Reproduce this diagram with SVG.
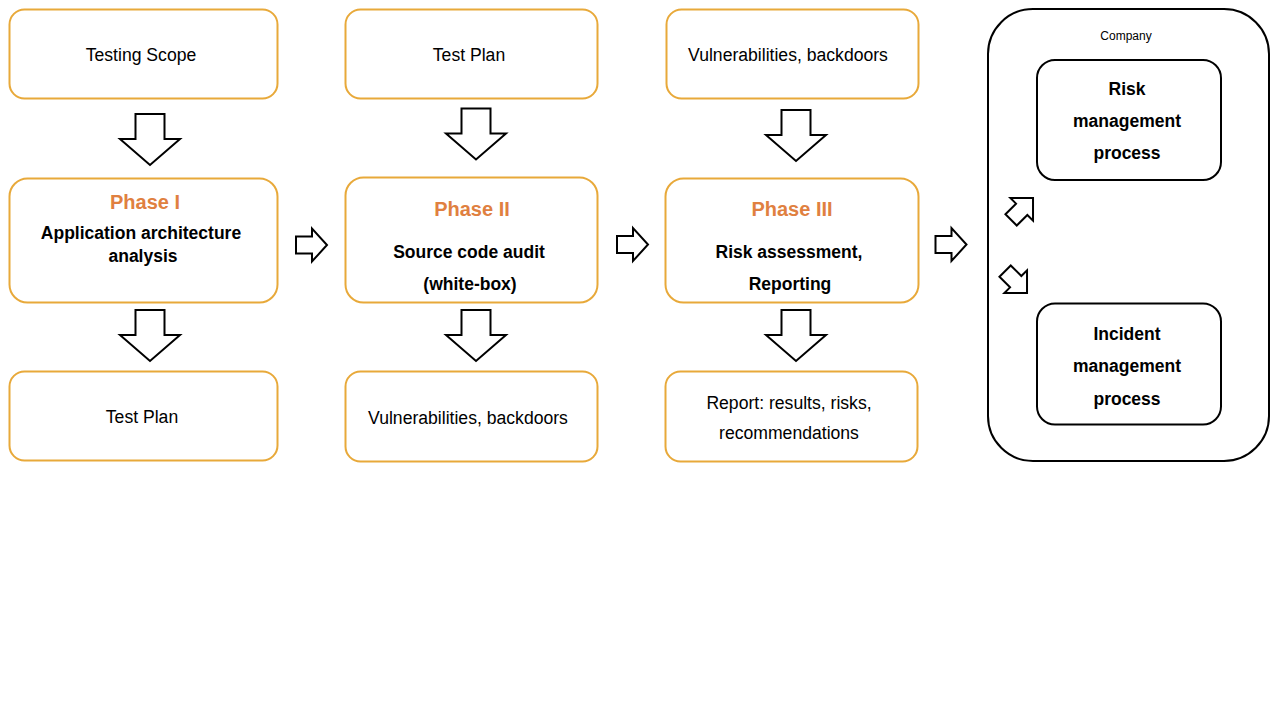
<svg xmlns="http://www.w3.org/2000/svg" xmlns:xlink="http://www.w3.org/1999/xlink" width="1280" height="720" viewBox="0 0 1280 720">
<style>
.ob{fill:#fff;stroke:#E8A93A;stroke-width:2}
.bb{fill:#fff;stroke:#000;stroke-width:2}
.ar{fill:#fff;stroke:#000;stroke-width:2;stroke-linejoin:miter}
text{font-family:"Liberation Sans",Arial,sans-serif;text-anchor:middle;fill:#000}
.r{font-size:17.6px}
.b{font-size:17.5px;font-weight:bold}
.ph{font-size:20px;font-weight:bold;fill:#E08040}
.s{font-size:12px}
</style>
<defs>
<path id="down" d="M-14.5,0 L14.5,0 L14.5,25 L30,25 L0,51 L-30,25 L-14.5,25 Z"/>
<path id="right" d="M0,-8.5 L16,-8.5 L16,-16.5 L31,0 L16,16.5 L16,8.5 L0,8.5 Z"/>
<path id="diag" d="M-14,-8 L1,-8 L1,-16 L17,0 L1,16 L1,8 L-14,8 Z"/>
</defs>
<rect width="1280" height="720" fill="#fff"/>

<g id="testing-scope"><rect class="ob" x="9.5" y="9.5" width="268" height="89" rx="15"/><text class="r" x="141" y="61">Testing Scope</text></g>
<g id="phase1"><rect class="ob" x="9.5" y="178.5" width="268" height="124" rx="18"/><text class="ph" x="145" y="209">Phase I</text><text class="b" x="141" y="239">Application architecture</text><text class="b" x="143" y="262">analysis</text></g>
<g id="test-plan-out"><rect class="ob" x="9.5" y="371.5" width="268" height="89" rx="15"/><text class="r" x="142" y="423">Test Plan</text></g>

<g id="test-plan-in"><rect class="ob" x="345.5" y="9.5" width="252" height="89" rx="15"/><text class="r" x="469" y="61">Test Plan</text></g>
<g id="phase2"><rect class="ob" x="345.5" y="177.5" width="252" height="125" rx="18"/><text class="ph" x="472" y="216">Phase II</text><text class="b" x="469" y="258">Source code audit</text><text class="b" x="470" y="290">(white-box)</text></g>
<g id="vuln-out"><rect class="ob" x="345.5" y="371.5" width="252" height="90" rx="15"/><text class="r" x="468" y="424">Vulnerabilities, backdoors</text></g>

<g id="vuln-in"><rect class="ob" x="666.5" y="9.5" width="252" height="89" rx="15"/><text class="r" x="788" y="61">Vulnerabilities, backdoors</text></g>
<g id="phase3"><rect class="ob" x="665.5" y="178.5" width="253" height="124" rx="18"/><text class="ph" x="792" y="216">Phase III</text><text class="b" x="789" y="258">Risk assessment,</text><text class="b" x="790" y="290">Reporting</text></g>
<g id="report"><rect class="ob" x="665.5" y="371.5" width="252" height="90" rx="15"/><text class="r" x="789" y="409">Report: results, risks,</text><text class="r" x="789" y="439">recommendations</text></g>

<g id="company"><rect class="bb" x="988" y="9" width="281" height="452" rx="45"/><text class="s" x="1126" y="40">Company</text></g>
<g id="risk-mgmt"><rect class="bb" x="1037" y="60" width="184" height="120" rx="18"/><text class="b" x="1127" y="95">Risk</text><text class="b" x="1127" y="127">management</text><text class="b" x="1127" y="159">process</text></g>
<g id="incident-mgmt"><rect class="bb" x="1037" y="303.5" width="184" height="121" rx="18"/><text class="b" x="1127" y="340">Incident</text><text class="b" x="1127" y="372">management</text><text class="b" x="1127" y="405">process</text></g>

<g id="connectors">
<use xlink:href="#down" class="ar" transform="translate(150,114)"/>
<use xlink:href="#down" class="ar" transform="translate(150,310)"/>
<use xlink:href="#down" class="ar" transform="translate(476,108.5)"/>
<use xlink:href="#down" class="ar" transform="translate(476,310)"/>
<use xlink:href="#down" class="ar" transform="translate(796,110)"/>
<use xlink:href="#down" class="ar" transform="translate(796,310)"/>
<use xlink:href="#right" class="ar" transform="translate(296,245)"/>
<use xlink:href="#right" class="ar" transform="translate(617,244.5)"/>
<use xlink:href="#right" class="ar" transform="translate(935.5,244.5)"/>
<use xlink:href="#diag" class="ar" transform="translate(1021,210) rotate(-45)"/>
<use xlink:href="#diag" class="ar" transform="translate(1015,281) rotate(45)"/>
</g>
</svg>
